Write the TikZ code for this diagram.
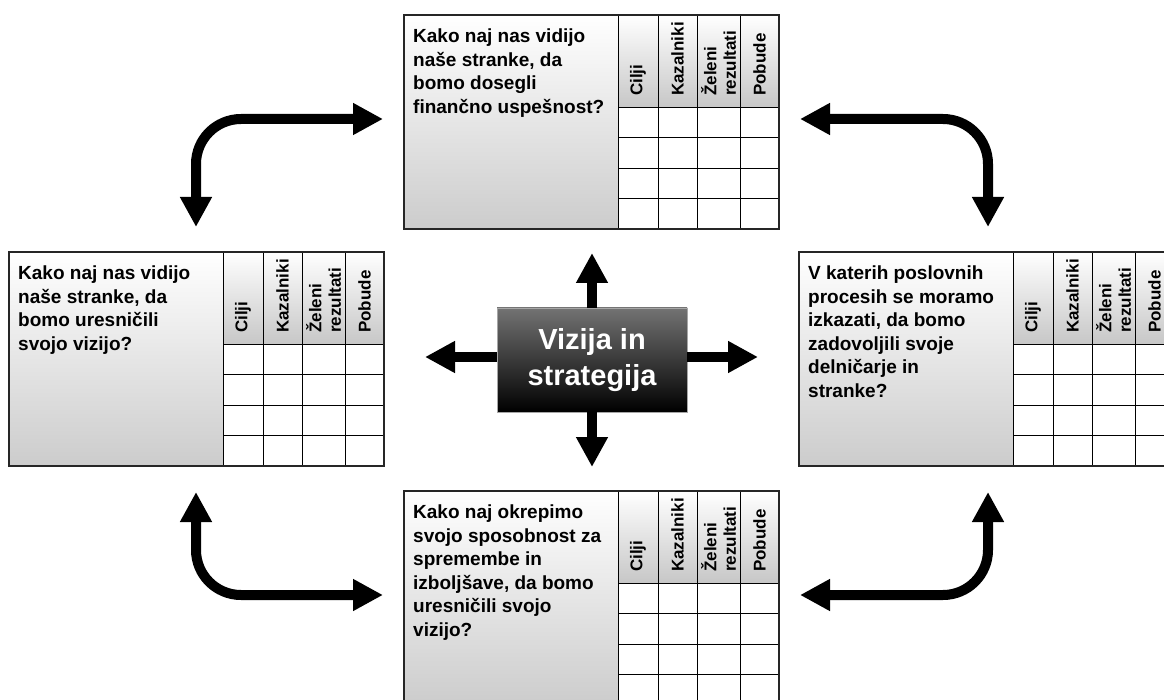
\documentclass[tikz,border=0pt]{standalone}
\usepackage{fontspec}
\setmainfont{Liberation Sans}
\usetikzlibrary{arrows.meta}

\tikzset{
  bigtip/.tip={Triangle[width=30pt,length=30pt]},
  fatline/.style={line width=10pt, black},
  qtext/.style={anchor=north west, inner sep=0pt, align=left,
    font=\fontsize{19}{23.5}\selectfont\bfseries},
  hdr/.style={rotate=90, anchor=west, inner sep=0pt, align=left,
    font=\fontsize{17}{19.5}\selectfont\bfseries},
  visionbox/.style={rectangle, minimum width=190pt, minimum height=104pt,
    top color=black!55, bottom color=black, draw=black!35, line width=0.8pt,
    text=white, align=center, inner sep=0pt,
    font=\fontsize{29}{36}\selectfont\bfseries},
}

% one perspective panel: #1 name, #2 left, #3 top, #4 question
\newcommand\perspective[4]{%
  \begin{scope}[shift={(#2,#3)}]
    \shade[top color=white, bottom color=black!20] (0,0) rectangle (214,214);
    \foreach \a/\b in {214/254,254/293,293/336,336/375}
      \shade[top color=white, bottom color=black!22] (\a,0) rectangle (\b,92);
    \fill[white] (214,92) rectangle (375,214);
    \foreach \x in {214,254,293,336}
      \draw[line width=0.9pt] (\x,0) -- (\x,214);
    \foreach \y in {92,122.5,153,183.5}
      \draw[line width=0.9pt] (214,\y) -- (375,\y);
    \draw[line width=1.4pt, black!85] (0,0) rectangle (375,214);
    \node[qtext] (#1) at (9,14) {#4};
    \node[hdr] (#1-c1) at (234,81) {Cilji};
    \node[hdr] (#1-c2) at (273.5,81) {Kazalniki};
    \node[hdr] (#1-c3) at (314.5,81) {Želeni\\rezultati};
    \node[hdr] (#1-c4) at (355.5,81) {Pobude};
  \end{scope}}

\begin{document}
\begin{tikzpicture}[x=1pt, y=-1pt]
  \useasboundingbox (0,0) rectangle (1164,700);
  \clip (0,0) rectangle (1164,700);

  % the four perspectives
  \perspective{finance}{404}{15}{Kako naj nas vidijo\\naše stranke, da\\bomo dosegli\\finančno uspešnost?}
  \perspective{customer}{9}{252}{Kako naj nas vidijo\\naše stranke, da\\bomo uresničili\\svojo vizijo?}
  \perspective{process}{799}{252}{V katerih poslovnih\\procesih se moramo\\izkazati, da bomo\\zadovoljili svoje\\delničarje in\\stranke?}
  \perspective{learning}{404}{491}{Kako naj okrepimo\\svojo sposobnost za\\spremembe in\\izboljšave, da bomo\\uresničili svojo\\vizijo?}

  % vision and strategy in the middle
  \node[visionbox] (vis) at (592,360) {Vizija in\\strategija};
  \coordinate (vis-up) at (592,253);
  \coordinate (vis-down) at (592,467);
  \coordinate (vis-left) at (425,357);
  \coordinate (vis-right) at (758,357);
  \draw[fatline, -bigtip] (vis.north) -- (vis-up);
  \draw[fatline, -bigtip] (vis.south) -- (vis-down);
  \draw[fatline, -bigtip] (vis.west |- vis-left) -- (vis-left);
  \draw[fatline, -bigtip] (vis.east |- vis-right) -- (vis-right);

  % bent double arrows linking neighbouring perspectives
  \coordinate (tl-a) at (196,227);  \coordinate (tl-c) at (196,119);  \coordinate (tl-b) at (383,119);
  \coordinate (tr-a) at (800,119);  \coordinate (tr-c) at (988,119);  \coordinate (tr-b) at (988,227);
  \coordinate (bl-a) at (196,492);  \coordinate (bl-c) at (196,595);  \coordinate (bl-b) at (383,595);
  \coordinate (br-a) at (800,595);  \coordinate (br-c) at (988,595);  \coordinate (br-b) at (988,492);
  \draw[fatline, bigtip-bigtip, rounded corners=45pt] (tl-a) -- (tl-c) -- (tl-b);
  \draw[fatline, bigtip-bigtip, rounded corners=45pt] (tr-a) -- (tr-c) -- (tr-b);
  \draw[fatline, bigtip-bigtip, rounded corners=45pt] (bl-a) -- (bl-c) -- (bl-b);
  \draw[fatline, bigtip-bigtip, rounded corners=45pt] (br-a) -- (br-c) -- (br-b);
\end{tikzpicture}
\end{document}
